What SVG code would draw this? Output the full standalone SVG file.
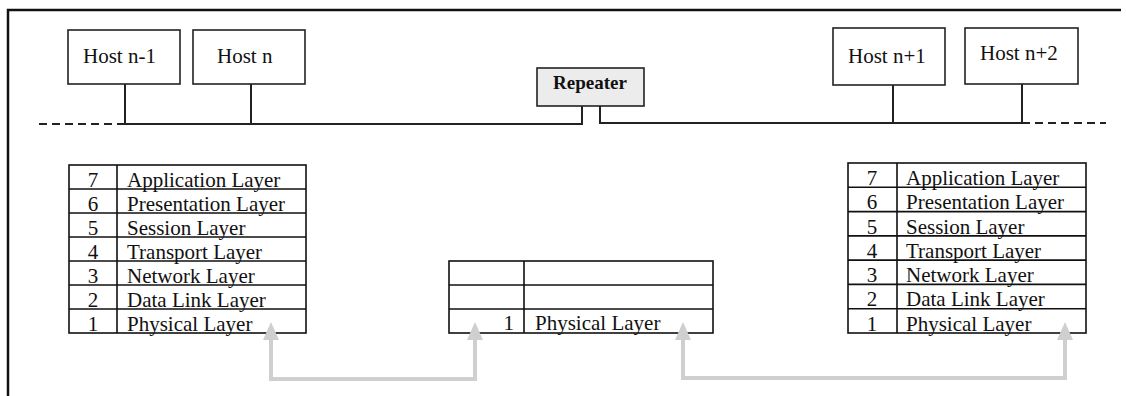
<svg xmlns="http://www.w3.org/2000/svg" width="1126" height="396" viewBox="0 0 1126 396">
<style>
.frame{stroke:#111;stroke-width:2.5;fill:none}
.box{fill:#fff;stroke:#222;stroke-width:1.6}
.rep{fill:#ececec;stroke:#222;stroke-width:1.6}
.bus{stroke:#222;stroke-width:2;fill:none}
.dash{stroke:#222;stroke-width:2;fill:none;stroke-dasharray:8 5}
.tbl{fill:#fff;stroke:#111;stroke-width:1.6}
.ln{stroke:#111;stroke-width:1.6}
.t{font-family:"Liberation Serif","Times New Roman",serif;font-size:21px;fill:#111}
.n{text-anchor:middle}
.b{font-weight:bold;font-size:19px}
.arr{stroke:#cfcfcf;stroke-width:4;fill:none}
</style>
<defs>
<marker id="ah" viewBox="0 0 18 16" refX="0" refY="8" markerWidth="18" markerHeight="16" markerUnits="userSpaceOnUse" orient="auto-start-reverse">
<path d="M0,0 L18,8 L0,16 Z" fill="#cfcfcf"/>
</marker>
</defs>
<rect width="1126" height="396" fill="#fff"/>
<path class="frame" d="M8,396 V10 H1121"/>

<g id="host-n-1">
<rect class="box" x="68" y="30" width="112" height="54"/>
<text class="t" x="83" y="63">Host n-1</text>
</g>
<g id="host-n">
<rect class="box" x="193" y="30" width="112" height="54"/>
<text class="t" x="217" y="63">Host n</text>
</g>
<g id="repeater">
<rect class="rep" x="537" y="68" width="107" height="38"/>
<text class="t b" x="553" y="89">Repeater</text>
</g>
<g id="host-n1">
<rect class="box" x="833" y="28" width="112" height="57"/>
<text class="t" x="848" y="63">Host n+1</text>
</g>
<g id="host-n2">
<rect class="box" x="965" y="28" width="113" height="56"/>
<text class="t" x="980" y="60">Host n+2</text>
</g>

<g id="stack-left">
<rect class="tbl" x="69" y="165" width="237" height="168"/>
<path class="ln" d="M117,165 V333 M69,189 H306 M69,213 H306 M69,237 H306 M69,261 H306 M69,285 H306 M69,309 H306"/>
<g class="t">
<text class="n" x="93" y="187">7</text><text x="127" y="187">Application Layer</text>
<text class="n" x="93" y="211">6</text><text x="127" y="211">Presentation Layer</text>
<text class="n" x="93" y="235">5</text><text x="127" y="235">Session Layer</text>
<text class="n" x="93" y="259">4</text><text x="127" y="259">Transport Layer</text>
<text class="n" x="93" y="283">3</text><text x="127" y="283">Network Layer</text>
<text class="n" x="93" y="307">2</text><text x="127" y="307">Data Link Layer</text>
<text class="n" x="93" y="331">1</text><text x="127" y="331">Physical Layer</text>
</g>
</g>

<g id="stack-middle">
<rect class="tbl" x="449" y="261" width="264" height="72"/>
<path class="ln" d="M524,261 V333 M449,285 H713 M449,309 H713"/>
<text class="t" x="514" y="330" text-anchor="end">1</text>
<text class="t" x="535" y="330">Physical Layer</text>
</g>

<g id="stack-right">
<rect class="tbl" x="848" y="163" width="238" height="170"/>
<path class="ln" d="M897,163 V333 M848,187.3 H1086 M848,211.6 H1086 M848,235.9 H1086 M848,260.1 H1086 M848,284.4 H1086 M848,308.7 H1086"/>
<g class="t">
<text class="n" x="872" y="185">7</text><text x="906" y="185">Application Layer</text>
<text class="n" x="872" y="209">6</text><text x="906" y="209">Presentation Layer</text>
<text class="n" x="872" y="234">5</text><text x="906" y="234">Session Layer</text>
<text class="n" x="872" y="258">4</text><text x="906" y="258">Transport Layer</text>
<text class="n" x="872" y="282">3</text><text x="906" y="282">Network Layer</text>
<text class="n" x="872" y="306">2</text><text x="906" y="306">Data Link Layer</text>
<text class="n" x="872" y="331">1</text><text x="906" y="331">Physical Layer</text>
</g>
</g>

<g id="connectors">
<path class="dash" d="M39,124 H125"/>
<path class="bus" d="M125,84 V124 H582 V106"/>
<path class="bus" d="M251,84 V124"/>
<path class="bus" d="M600,106 V123 H1022 V84"/>
<path class="bus" d="M893,85 V123"/>
<path class="dash" d="M1022,123 H1106"/>
<path class="arr" d="M271,340 V379 H475 V340" marker-start="url(#ah)" marker-end="url(#ah)"/>
<path class="arr" d="M683,340 V378 H1065 V340" marker-start="url(#ah)" marker-end="url(#ah)"/>
</g>
</svg>
